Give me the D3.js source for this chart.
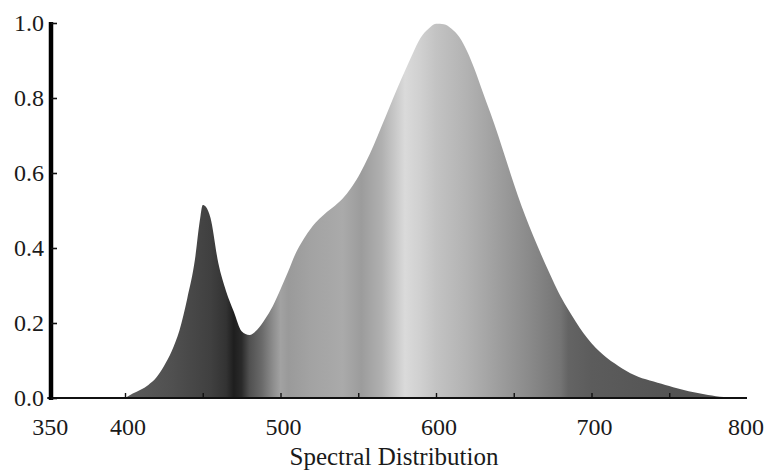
<!DOCTYPE html>
<html>
<head>
<meta charset="utf-8">
<script src="https://cdn.jsdelivr.net/npm/d3@7"></script>
<style>
  html, body { margin: 0; padding: 0; background: #fff; }
  svg { display: block; }
  text { font-family: "Liberation Serif", "Times New Roman", serif; fill: #1a1a1a; }
</style>
</head>
<body>
<svg id="chart" width="765" height="473"></svg>
<script>
// ---- data ----
const wavelengths = [400,405,410,415,420,425,430,435,440,445,448,450,452,455,460,465,470,475,480,485,490,495,500,505,510,515,520,525,530,535,540,545,550,555,560,565,570,575,580,585,590,595,600,605,610,615,620,625,630,635,640,645,650,655,660,665,670,675,680,685,690,695,700,705,710,715,720,725,730,735,740,745,750,755,760,765,770,775,780,785,790,800];
const intensity   = [0.0,0.012,0.022,0.035,0.054,0.085,0.125,0.18,0.265,0.37,0.47,0.515,0.51,0.48,0.36,0.285,0.23,0.178,0.168,0.182,0.21,0.245,0.29,0.338,0.388,0.425,0.455,0.478,0.497,0.513,0.532,0.558,0.59,0.63,0.675,0.725,0.775,0.825,0.872,0.918,0.96,0.984,0.998,0.997,0.985,0.963,0.925,0.875,0.817,0.76,0.70,0.636,0.572,0.512,0.458,0.408,0.36,0.315,0.272,0.236,0.203,0.172,0.146,0.125,0.107,0.092,0.078,0.066,0.057,0.05,0.044,0.038,0.032,0.026,0.021,0.016,0.012,0.008,0.005,0.003,0.0015,0.0];

// gray shading of the fill along the wavelength axis
const shadeNm   = [350,400,430,455,465,470,475,480,488,495,500,505,520,540,552,565,580,590,600,620,640,660,680,685,700,750,800];
const shadeGray = ["#5c5c5c","#5c5c5c","#505050","#404040","#333333","#1e1e1e","#2a2a2a","#505050","#6a6a6a","#8c8c8c","#a2a2a2","#9a9a9a","#a3a3a3","#aaaaaa","#9c9c9c","#b0b0b0","#dadada","#d0d0d0","#c3c3c3","#b2b2b2","#9e9e9e","#8a8a8a","#747474","#646464","#5c5c5c","#545454","#505050"];

const xTicks = [350,400,450,500,550,600,650,700,750,800];
const xTickLabels = ["350","400","","500","","600","","700","","800"];
const yTicks = [0,0.2,0.4,0.6,0.8,1.0];
const yTickLabels = ["0.0","0.2","0.4","0.6","0.8","1.0"];
const xTitle = "Spectral Distribution";

// ---- layout ----
const svg = d3.select("#chart");
const x = d3.scaleLinear().domain([350, 800]).range([47.25, 747]);
const y = d3.scaleLinear().domain([0, 1]).range([398, 23]);

// gradient
const defs = svg.append("defs");
const grad = defs.append("linearGradient")
  .attr("id", "shade")
  .attr("gradientUnits", "userSpaceOnUse")
  .attr("x1", x(350)).attr("x2", x(800)).attr("y1", 0).attr("y2", 0);
grad.selectAll("stop").data(shadeNm).join("stop")
  .attr("offset", d => (x(d) - x(350)) / (x(800) - x(350)))
  .attr("stop-color", (d, i) => shadeGray[i]);

const pts = wavelengths.map((w, i) => [w, intensity[i]]);
const area = d3.area()
  .x(d => x(d[0]))
  .y0(y(0))
  .y1(d => y(d[1]))
  .curve(d3.curveMonotoneX);

svg.append("path")
  .datum(pts)
  .attr("d", area)
  .attr("fill", "url(#shade)");

// x axis
const xAxis = d3.axisBottom(x)
  .tickValues(xTicks)
  .tickSizeInner(-5)
  .tickSizeOuter(0)
  .tickFormat("");
const gx = svg.append("g").attr("transform", `translate(0,${y(0)})`).call(xAxis);
gx.select(".domain").attr("stroke", "#111").attr("stroke-width", 2.2)
  .attr("d", `M${x(350)},0H${x(800)}`);
gx.selectAll(".tick line").attr("stroke", "#111").attr("stroke-width", 1.4);
gx.selectAll(".tick").filter(d => d === 350 || d === 800).select("line").remove();

svg.append("g").selectAll("text").data(xTicks).join("text")
  .attr("x", d => Math.min(x(d) + 3, 746))
  .attr("y", 435)
  .attr("text-anchor", "middle")
  .attr("font-size", 24)
  .text((d, i) => xTickLabels[i]);

// y axis
const yAxis = d3.axisLeft(y)
  .tickValues(yTicks)
  .tickSizeInner(-6)
  .tickSizeOuter(0)
  .tickFormat("");
const gy = svg.append("g").attr("transform", `translate(51,0)`).call(yAxis);
gy.select(".domain").attr("stroke", "#000").attr("stroke-width", 4.5)
  .attr("d", `M0,${y(1) - 1}V${y(0) + 2}`);
gy.selectAll(".tick line").attr("stroke", "#111").attr("stroke-width", 1.6);

svg.append("g").selectAll("text").data(yTicks).join("text")
  .attr("x", 44)
  .attr("y", d => y(d))
  .attr("dy", "0.35em")
  .attr("text-anchor", "end")
  .attr("font-size", 24)
  .text((d, i) => yTickLabels[i]);

// x title
svg.append("text")
  .attr("x", 394)
  .attr("y", 465)
  .attr("text-anchor", "middle")
  .attr("font-size", 25)
  .text(xTitle);
</script>
</body>
</html>
